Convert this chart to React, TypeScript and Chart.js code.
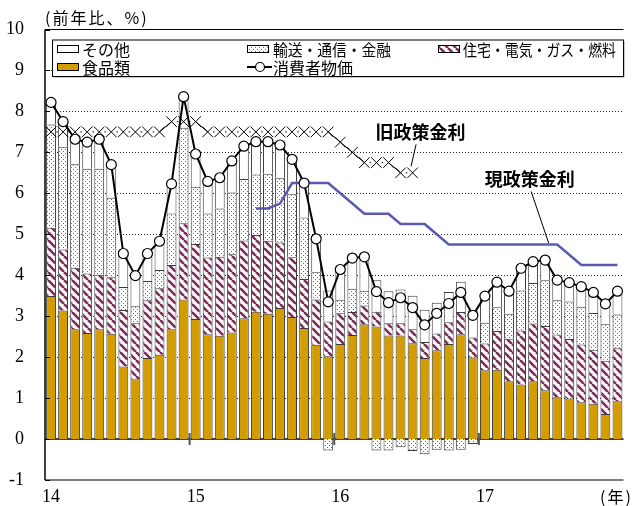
import React, { useEffect, useRef } from 'react';
import { Chart, registerables } from 'chart.js';

Chart.register(...registerables);

// ---- data ----
const years = ['2014', '2015', '2016', '2017'];
const monthNames = ['1', '2', '3', '4', '5', '6', '7', '8', '9', '10', '11', '12'];
const categories = years.flatMap((y) => monthNames.map((m) => `${y}/${m}`));
const yearTickLabels = ['14', '15', '16', '17'];

const food = [
  3.49, 3.14, 2.68, 2.59, 2.68, 2.57, 1.77, 1.46, 1.98, 2.06, 2.68, 3.41,
  2.93, 2.56, 2.52, 2.6, 2.95, 3.11, 3.06, 3.2, 2.98, 2.71, 2.3, 2.02,
  2.32, 2.54, 2.8, 2.75, 2.53, 2.53, 2.34, 1.98, 2.17, 2.32, 2.56, 1.99,
  1.68, 1.69, 1.41, 1.33, 1.41, 1.19, 1.02, 0.99, 0.9, 0.86, 0.61, 0.92,
];
const housing = [
  1.67, 1.49, 1.5, 1.45, 1.33, 1.38, 1.38, 1.37, 1.41, 1.62, 1.57, 1.86,
  1.83, 1.87, 1.93, 1.91, 1.9, 1.87, 1.78, 1.6, 1.46, 1.2, 1.11, 0.85,
  0.75, 0.56, 0.46, 0.36, 0.3, 0.3, 0.34, 0.39, 0.41, 0.53, 0.54, 0.49,
  0.65, 0.95, 1.04, 1.32, 1.41, 1.57, 1.53, 1.45, 1.41, 1.32, 1.3, 1.3,
];
const transport = [
  2.52, 2.51, 2.53, 2.56, 2.59, 1.94, 0.56, 0.41, 0.47, 0.45, 1.26, 2.33,
  1.4, 1.08, 1.18, 1.51, 1.5, 1.48, 1.64, 1.58, 1.54, 1.5, 0.66, -0.28,
  0.33, 0.57, 0.36, -0.28, -0.28, -0.2, -0.29, -0.37, -0.26, -0.28, -0.26, -0.12,
  0.51, 0.58, 0.61, 0.98, 0.99, 1.12, 0.84, 0.92, 0.92, 0.9, 0.89, 0.82,
];
const other = [
  0.54, 0.61, 0.61, 0.65, 0.72, 0.81, 0.82, 0.75, 0.67, 0.7, 0.72, 0.76,
  0.8, 0.78, 0.75, 0.77, 0.8, 0.8, 0.78, 0.8, 0.85, 0.84, 0.82, 0.76,
  0.74, 0.75, 0.83, 0.77, 0.78, 0.82, 0.82, 0.79, 0.75, 0.74, 0.74, 0.66,
  0.66, 0.61, 0.55, 0.54, 0.52, 0.49, 0.49, 0.46, 0.5, 0.5, 0.5, 0.57,
];
const cpi = [
  8.22, 7.75, 7.32, 7.25, 7.32, 6.7, 4.53, 3.99, 4.53, 4.83, 6.23, 8.36,
  6.96, 6.29, 6.38, 6.79, 7.15, 7.26, 7.26, 7.18, 6.83, 6.25, 4.89, 3.35,
  4.14, 4.42, 4.45, 3.6, 3.33, 3.45, 3.21, 2.79, 3.07, 3.31, 3.58, 3.02,
  3.49, 3.83, 3.61, 4.17, 4.33, 4.37, 3.88, 3.82, 3.72, 3.58, 3.3, 3.61,
];
const oldRate = [
  7.5, 7.5, 7.5, 7.5, 7.5, 7.5, 7.5, 7.5, 7.5, 7.5, 7.75, 7.75,
  7.75, 7.5, 7.5, 7.5, 7.5, 7.5, 7.5, 7.5, 7.5, 7.5, 7.5, 7.5,
  7.25, 7.0, 6.75, 6.75, 6.75, 6.5, 6.5, null, null, null, null, null,
  null, null, null, null, null, null, null, null, null, null, null, null,
];
const newRate = [
  null, null, null, null, null, null, null, null, null, null, null, null,
  null, null, null, null, null, 5.63, 5.63, 5.75, 6.25, 6.25, 6.25, 6.25,
  6.0, 5.75, 5.5, 5.5, 5.5, 5.25, 5.25, 5.25, 5.0, 4.75, 4.75, 4.75,
  4.75, 4.75, 4.75, 4.75, 4.75, 4.75, 4.75, 4.5, 4.25, 4.25, 4.25, 4.25,
];

const LABEL_OTHER = 'その他';
const LABEL_TRANSPORT = '輸送・通信・金融';
const LABEL_HOUSING = '住宅・電気・ガス・燃料';
const LABEL_FOOD = '食品類';
const LABEL_CPI = '消費者物価';
const LABEL_OLD = '旧政策金利';
const LABEL_NEW = '現政策金利';
const TITLE = '(前年比、%)';
const YEAR_UNIT = '(年)';

const FOOD_COLOR = '#D39C00';
const HATCH_COLOR = '#7F2A5C';
const BLUE = '#5A5AB2';
const CJK = '"Noto Sans CJK JP", "Noto Sans", sans-serif';
const SERIF = '"Liberation Serif", "DejaVu Serif", serif';

// desired plot-area edges (canvas px)
const AREA_TOP = 29.5;
const AREA_BOTTOM = 480;

function makeHatch(): CanvasPattern | string {
  const s = 8;
  const c = document.createElement('canvas');
  c.width = s;
  c.height = s;
  const g = c.getContext('2d');
  if (!g) return HATCH_COLOR;
  g.fillStyle = '#fff';
  g.fillRect(0, 0, s, s);
  g.strokeStyle = HATCH_COLOR;
  g.lineWidth = 2.6;
  for (let k = -1; k <= 1; k++) {
    g.beginPath();
    g.moveTo(k * s, 0);
    g.lineTo(k * s + s, s);
    g.stroke();
  }
  return g.createPattern(c, 'repeat') || HATCH_COLOR;
}

function makeDots(): CanvasPattern | string {
  const s = 4;
  const c = document.createElement('canvas');
  c.width = s;
  c.height = s;
  const g = c.getContext('2d');
  if (!g) return '#ddd';
  g.fillStyle = '#fff';
  g.fillRect(0, 0, s, s);
  g.fillStyle = '#6a6a6a';
  g.fillRect(1, 1, 1, 1);
  g.fillRect(3, 3, 1, 1);
  return g.createPattern(c, 'repeat') || '#ddd';
}

function line(ctx: CanvasRenderingContext2D, x1: number, y1: number, x2: number, y2: number) {
  ctx.beginPath();
  ctx.moveTo(x1, y1);
  ctx.lineTo(x2, y2);
  ctx.stroke();
}

const overlayPlugin = {
  id: 'overlay',
  beforeDatasetsDraw(chart: any) {
    const { ctx, chartArea: a } = chart;
    const y = chart.scales.y;
    ctx.save();
    ctx.strokeStyle = '#222';
    ctx.lineWidth = 1;
    ctx.setLineDash([1, 2]);
    y.ticks.forEach((t: any) => {
      if (t.value > y.min && t.value < y.max && t.value !== 0) {
        const py = Math.round(y.getPixelForValue(t.value)) + 0.5;
        line(ctx, a.left, py, a.right, py);
      }
    });
    ctx.setLineDash([]);
    ctx.strokeStyle = '#000';
    ctx.lineWidth = 1.5;
    const zy = y.getPixelForValue(0);
    line(ctx, a.left, zy, a.right, zy);
    ctx.restore();
  },
  afterDatasetsDraw(chart: any) {
    const { ctx, chartArea: a } = chart;
    const x = chart.scales.x;
    const y = chart.scales.y;
    ctx.save();
    // frame
    ctx.strokeStyle = '#000';
    ctx.lineWidth = 1.2;
    const ty = y.getPixelForValue(y.max);
    line(ctx, a.left, ty, a.right, ty);
    line(ctx, a.left, a.bottom, a.right, a.bottom);
    ctx.lineWidth = 1.5;
    line(ctx, a.left, a.top, a.left, a.bottom);
    // inner ticks on y axis
    ctx.lineWidth = 1;
    y.ticks.forEach((t: any) => {
      const py = Math.round(y.getPixelForValue(t.value)) + 0.5;
      line(ctx, a.left, py, a.left + 5, py);
    });
    // year boundary marks on zero line
    const zy = y.getPixelForValue(0);
    ctx.strokeStyle = '#555';
    ctx.lineWidth = 2;
    for (let i = 12; i < categories.length; i += 12) {
      const bx = (x.getPixelForValue(i - 1) + x.getPixelForValue(i)) / 2;
      line(ctx, bx, zy - 6, bx, zy + 6);
    }

    // legend
    const ds = chart.data.datasets;
    const byLabel = (l: string) => ds.find((d: any) => d.label === l);
    const L = { x: 52, y: 39.5, w: 571, h: 36.5 };
    ctx.fillStyle = '#9a9a9a';
    ctx.fillRect(L.x + 1.5, L.y + 1.5, L.w, L.h);
    ctx.fillStyle = '#fff';
    ctx.fillRect(L.x, L.y, L.w, L.h);
    ctx.strokeStyle = '#000';
    ctx.lineWidth = 1;
    ctx.strokeRect(L.x + 0.5, L.y + 0.5, L.w, L.h);

    const cols = [{ icon: 57, text: 82 }, { icon: 247, text: 273 }, { icon: 438, text: 463 }];
    const rows = [49, 67];
    const items = [
      { label: LABEL_OTHER, col: 0, row: 0, kind: 'rect', maxW: 50 },
      { label: LABEL_TRANSPORT, col: 1, row: 0, kind: 'rect', maxW: 118 },
      { label: LABEL_HOUSING, col: 2, row: 0, kind: 'rect', maxW: 153 },
      { label: LABEL_FOOD, col: 0, row: 1, kind: 'rect', maxW: 50 },
      { label: LABEL_CPI, col: 1, row: 1, kind: 'line', maxW: 82 },
    ];
    ctx.font = `16px ${CJK}`;
    ctx.textBaseline = 'middle';
    ctx.textAlign = 'left';
    items.forEach((it) => {
      const c = cols[it.col];
      const ry = rows[it.row];
      const d = byLabel(it.label);
      if (it.kind === 'rect') {
        ctx.fillStyle = d.backgroundColor;
        ctx.fillRect(c.icon, ry - 3.5, 22, 7);
        ctx.strokeStyle = '#000';
        ctx.lineWidth = 1;
        ctx.strokeRect(c.icon + 0.5, ry - 3.5, 21, 7);
      } else {
        ctx.strokeStyle = '#000';
        ctx.lineWidth = 2;
        line(ctx, c.icon, ry, c.icon + 25, ry);
        ctx.beginPath();
        ctx.arc(c.icon + 13, ry, 4.5, 0, Math.PI * 2);
        ctx.fillStyle = '#fff';
        ctx.fill();
        ctx.lineWidth = 1.2;
        ctx.stroke();
      }
      ctx.fillStyle = '#000';
      ctx.fillText(it.label, c.text, ry + 1, it.maxW);
    });

    // annotations
    const oldIdx = ds.findIndex((d: any) => d.label === LABEL_OLD);
    const newIdx = ds.findIndex((d: any) => d.label === LABEL_NEW);
    const oldPt = chart.getDatasetMeta(oldIdx).data[30];
    const newPt = chart.getDatasetMeta(newIdx).data[41];
    ctx.font = `bold 18px ${CJK}`;
    ctx.textAlign = 'center';
    ctx.fillStyle = '#000';
    ctx.strokeStyle = '#000';
    ctx.lineWidth = 1;
    if (oldPt) {
      ctx.fillText(LABEL_OLD, oldPt.x + 8, oldPt.y - 41);
      line(ctx, oldPt.x + 3.5, oldPt.y - 28.5, oldPt.x - 1.5, oldPt.y - 6.5);
    }
    if (newPt) {
      ctx.fillText(LABEL_NEW, newPt.x - 15.5, newPt.y - 65.5);
      line(ctx, newPt.x - 14, newPt.y - 53, newPt.x + 3.5, newPt.y - 1.5);
    }

    // title and unit
    ctx.font = `16px ${CJK}`;
    ctx.textAlign = 'left';
    (ctx as any).letterSpacing = '2px';
    ctx.fillText(TITLE, 45, 18);
    ctx.fillText(YEAR_UNIT, 600, 497);
    (ctx as any).letterSpacing = '0px';
    ctx.restore();
  },
};

export default function App() {
  const ref = useRef<HTMLCanvasElement>(null);

  useEffect(() => {
    const canvas = ref.current;
    if (!canvas) return;
    const hatch = makeHatch();
    const dots = makeDots();
    const layoutState = { padTop: AREA_TOP, xHeight: 506 - AREA_BOTTOM };

    const barCommon = {
      type: 'bar' as const,
      stack: 'bars',
      order: 3,
      borderColor: '#3c3c3c',
      borderSkipped: false as const,
      barPercentage: 0.82,
      categoryPercentage: 1,
    };

    const chart = new Chart(canvas, {
      type: 'bar',
      data: {
        labels: categories,
        datasets: [
          {
            type: 'line',
            label: LABEL_CPI,
            data: cpi,
            stack: 's_cpi',
            order: 0,
            borderColor: '#000',
            borderWidth: 2,
            pointRadius: 5,
            pointBackgroundColor: '#fff',
            pointBorderColor: '#000',
            pointBorderWidth: 1.2,
            tension: 0,
          },
          {
            type: 'line',
            label: LABEL_NEW,
            data: newRate,
            stack: 's_new',
            order: 1,
            borderColor: BLUE,
            borderWidth: 2.5,
            pointRadius: 0,
            tension: 0,
          },
          {
            type: 'line',
            label: LABEL_OLD,
            data: oldRate,
            stack: 's_old',
            order: 2,
            borderColor: '#000',
            borderWidth: 1,
            pointStyle: 'crossRot',
            pointRadius: 7.5,
            pointBorderColor: '#000',
            pointBorderWidth: 1,
            tension: 0,
            segment: {
              borderDash: (c: any) =>
                c.p0.parsed.y === c.p1.parsed.y ? [1.5, Math.max(1, c.p1.x - c.p0.x - 1.5)] : undefined,
              borderDashOffset: (c: any) =>
                c.p0.parsed.y === c.p1.parsed.y ? -((c.p1.x - c.p0.x) / 2 - 0.75) : undefined,
            },
          } as any,
          {
            ...barCommon,
            label: LABEL_FOOD,
            data: food,
            backgroundColor: FOOD_COLOR,
            borderWidth: { top: 1, left: 1, right: 1, bottom: 0 },
          } as any,
          {
            ...barCommon,
            label: LABEL_HOUSING,
            data: housing,
            backgroundColor: hatch,
            borderWidth: { top: 1, left: 1, right: 1, bottom: 0 },
          } as any,
          {
            ...barCommon,
            label: LABEL_TRANSPORT,
            data: transport,
            backgroundColor: dots,
            borderWidth: (c: any) =>
              c.raw < 0 ? { top: 0, left: 1, right: 1, bottom: 1 } : { top: 1, left: 1, right: 1, bottom: 0 },
          } as any,
          {
            ...barCommon,
            label: LABEL_OTHER,
            data: other,
            backgroundColor: '#fff',
            borderWidth: { top: 1, left: 1, right: 1, bottom: 0 },
          } as any,
        ],
      },
      options: {
        responsive: false,
        animation: false,
        events: [],
        layout: { padding: { top: layoutState.padTop, right: 0, left: 0, bottom: 0 } },
        plugins: {
          legend: { display: false },
          tooltip: { enabled: false },
          title: { display: false },
        },
        scales: {
          x: {
            stacked: true,
            grid: { display: false, drawTicks: false },
            border: { display: false },
            ticks: {
              autoSkip: false,
              maxRotation: 0,
              minRotation: 0,
              padding: 6.5,
              color: '#000',
              font: { family: SERIF, size: 18 },
              callback: (_v: any, index: number) => (index % 12 === 0 ? yearTickLabels[index / 12] : ''),
            },
            afterFit: (s: any) => {
              s.height = layoutState.xHeight;
              s.paddingLeft = 0;
              s.paddingRight = 0;
              s.paddingTop = 0;
              s.paddingBottom = 0;
            },
          },
          y: {
            stacked: true,
            min: -1,
            max: 10,
            grid: { display: false, drawTicks: false },
            border: { display: false },
            ticks: {
              stepSize: 1,
              padding: 21,
              color: '#000',
              font: { family: SERIF, size: 18 },
            },
            afterFit: (s: any) => {
              s.width = 45;
              s.paddingTop = 0;
              s.paddingBottom = 0;
              s.paddingLeft = 0;
              s.paddingRight = 0;
            },
          },
        },
      },
      plugins: [overlayPlugin],
    } as any);

    // correct any residual layout offsets so the plot area spans the intended range
    for (let pass = 0; pass < 2; pass++) {
      const a = chart.chartArea;
      const dTop = a.top - AREA_TOP;
      const dBottom = AREA_BOTTOM - a.bottom;
      if (Math.abs(dTop) < 0.05 && Math.abs(dBottom) < 0.05) break;
      layoutState.padTop = Math.max(0, layoutState.padTop - dTop);
      layoutState.xHeight = Math.max(0, layoutState.xHeight - dBottom);
      (chart.options as any).layout.padding.top = layoutState.padTop;
      chart.update();
    }

    return () => chart.destroy();
  }, []);

  return (
    <div style={{ position: 'absolute', left: 0, top: 0, width: 632, height: 506, background: '#fff' }}>
      <canvas ref={ref} width={632} height={506} style={{ display: 'block', width: 632, height: 506 }} />
    </div>
  );
}
